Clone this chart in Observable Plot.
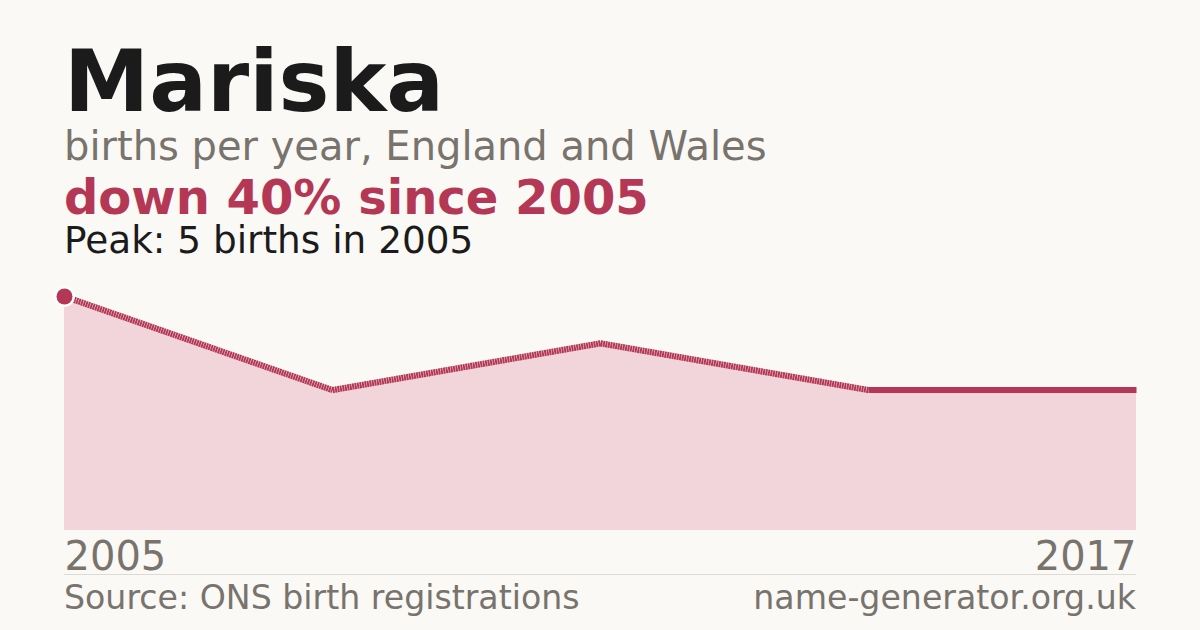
<!DOCTYPE html>
<html>
<head>
<meta charset="utf-8">
<script src="https://cdn.jsdelivr.net/npm/d3@7"></script>
<script src="https://cdn.jsdelivr.net/npm/@observablehq/plot@0.6"></script>
<style>
  html, body { margin: 0; padding: 0; background: #faf9f5; }
  body { width: 1200px; height: 630px; position: relative; overflow: hidden; font-family: "DejaVu Sans", sans-serif; }
  .t { position: absolute; left: 64px; line-height: 0.85; white-space: nowrap; }
  #title { top: 45.7px; font-size: 85.6px; font-weight: bold; color: #1b1b1b; }
  #sub { top: 129.2px; font-size: 40px; color: #78736c; }
  #change { top: 176.5px; font-size: 48px; font-weight: bold; color: #b43855; }
  #peak { top: 225px; font-size: 37.4px; color: #1b1b1b; }
  #rule { position: absolute; left: 64px; top: 574px; width: 1072px; height: 1px; background: #dddad3; }
  #src { top: 584.4px; font-size: 33.2px; color: #78736c; }
  #site { top: 584.4px; font-size: 33.2px; color: #78736c; left: auto; right: 64px; }
  #chart { position: absolute; left: 0; top: 270px; }
</style>
</head>
<body>
<div class="t" id="title">Mariska</div>
<div class="t" id="sub">births per year, England and Wales</div>
<div class="t" id="change">down 40% since 2005</div>
<div class="t" id="peak">Peak: 5 births in 2005</div>
<div id="chart"></div>
<div id="rule"></div>
<div class="t" id="src">Source: ONS birth registrations</div>
<div class="t" id="site">name-generator.org.uk</div>
<script>
const years = [2005, 2008, 2011, 2014, 2015, 2016, 2017];
const births = [5, 3, 4, 3, 3, 3, 3];
const tickYears = [2005, 2017];
const peakYear = 2005;
const peakBirths = 5;

const red = "#b43855";
const data = years.map((year, i) => ({year, births: births[i]}));
// consecutive-year runs drawn solid; gaps across missing years drawn dashed
let run = 0;
data.forEach((d, i) => { if (i > 0 && d.year - data[i - 1].year > 1) run++; d.run = run; });
const gaps = data.slice(1).map((d, i) => ({
  x1: data[i].year, y1: data[i].births, x2: d.year, y2: d.births,
  gap: d.year - data[i].year > 1
})).filter(s => s.gap);

const chart = Plot.plot({
  width: 1200,
  height: 310,
  marginTop: 26,
  marginBottom: 50,
  marginLeft: 64,
  marginRight: 64,
  x: {domain: [tickYears[0], tickYears[1]], axis: null},
  y: {domain: [0, peakBirths], axis: null},
  style: {background: "transparent", overflow: "visible", fontFamily: "DejaVu Sans, sans-serif"},
  marks: [
    Plot.areaY(data, {x: "year", y: "births", fill: "#f1d5da"}),
    Plot.link(gaps, {x1: "x1", y1: "y1", x2: "x2", y2: "y2", stroke: red, strokeWidth: 6.2, strokeDasharray: "2,0.5"}),
    Plot.line(data, {x: "year", y: "births", z: "run", stroke: red, strokeWidth: 6, strokeLinecap: "butt", strokeLinejoin: "miter"}),
    Plot.dot([{year: peakYear, births: peakBirths}], {x: "year", y: "births", r: 8, fill: red, stroke: "#ffffff", strokeWidth: 5, paintOrder: "stroke"}),
    Plot.text([tickYears[0]], {x: d => d, y: 0, text: d => String(d), textAnchor: "start", dy: 27, fontSize: 40, fill: "#78736c"}),
    Plot.text([tickYears[1]], {x: d => d, y: 0, text: d => String(d), textAnchor: "end", dy: 27, fontSize: 40, fill: "#78736c"})
  ]
});
document.getElementById("chart").appendChild(chart);
</script>
</body>
</html>
